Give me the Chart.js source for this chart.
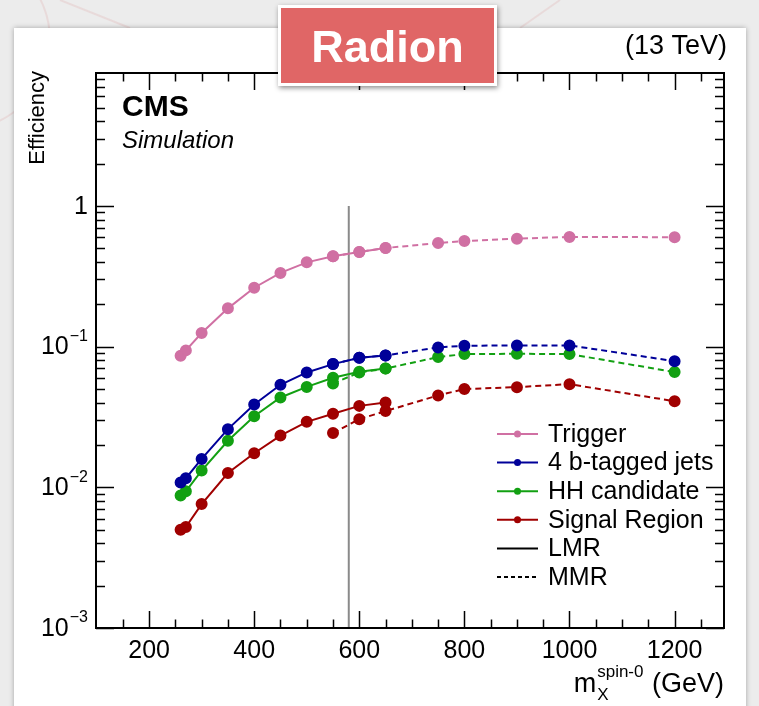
<!DOCTYPE html>
<html>
<head>
<meta charset="utf-8">
<script src="https://cdn.jsdelivr.net/npm/chart.js@4/dist/chart.umd.min.js"></script>
<style>
  html, body { margin: 0; padding: 0; background: #ececec; }
  #wrap { position: relative; width: 759px; height: 706px; overflow: hidden; }
  #chart { position: absolute; left: 0; top: 0; }
  #radion {
    position: absolute; left: 278px; top: 5px; width: 213px; height: 75px;
    background: #e06666; border: 3px solid #fff;
    box-shadow: 1px 2px 5px rgba(0,0,0,0.45);
    color: #fff; font: bold 45px "Liberation Sans", Arial, sans-serif;
    text-align: center; line-height: 77px;
  }
</style>
</head>
<body>
<div id="wrap">
  <canvas id="chart" width="759" height="706"></canvas>
  <div id="radion">Radion</div>
</div>
<script>
// signal mass points (GeV)
const massLMR = [260, 270, 300, 350, 400, 450, 500, 550, 600, 650]
const massMMR = [550, 600, 650, 750, 800, 900, 1000, 1200]

// efficiencies
const triggerLMR = [0.086, 0.094, 0.125, 0.187, 0.262, 0.334, 0.397, 0.438, 0.471, 0.502]
const triggerMMR = [0.438, 0.471, 0.502, 0.544, 0.563, 0.585, 0.602, 0.599]
const btagLMR = [0.0108, 0.0116, 0.0159, 0.0259, 0.0388, 0.0535, 0.0655, 0.0751, 0.0832, 0.0866]
const btagMMR = [0.0751, 0.0832, 0.0866, 0.0987, 0.1013, 0.102, 0.102, 0.0788]
const hhLMR = [0.00873, 0.00937, 0.01315, 0.0214, 0.0320, 0.0435, 0.0517, 0.0600, 0.0662, 0.0700]
const hhMMR = [0.0547, 0.0655, 0.0698, 0.0842, 0.0885, 0.0889, 0.0885, 0.0659]
const srLMR = [0.0050, 0.00522, 0.0076, 0.01264, 0.01746, 0.0233, 0.0292, 0.0333, 0.0379, 0.0401]
const srMMR = [0.0243, 0.0305, 0.0348, 0.0450, 0.0499, 0.0515, 0.0541, 0.0409]

// LMR / MMR boundary
const boundaryX = 580
const boundaryY = [0.001, 1]

const seriesNames = ['Trigger', '4 b-tagged jets', 'HH candidate', 'Signal Region']
const seriesColors = ['#d070a3', '#000099', '#12a012', '#a00000']

const xTicks = [200, 400, 600, 800, 1000, 1200]
const yTicks = [1, 0.1, 0.01, 0.001]
const yTickLabels = [['1', ''], ['10', '\u22121'], ['10', '\u22122'], ['10', '\u22123']]

const FONT = '"Liberation Sans", Arial, sans-serif'

function pts(xs, ys) {
    return xs.map((x, i) => ({ x: x, y: ys[i] }))
}

const lmr = [triggerLMR, btagLMR, hhLMR, srLMR]
const mmr = [triggerMMR, btagMMR, hhMMR, srMMR]

var datasets = []
for (let i = 0; i < 4; i++) {
    datasets.push({
        label: seriesNames[i] + ' MMR',
        data: pts(massMMR, mmr[i]),
        borderColor: seriesColors[i],
        backgroundColor: seriesColors[i],
        borderDash: [6, 4],
        borderWidth: 2,
        pointRadius: 5
    })
}
for (let i = 0; i < 4; i++) {
    datasets.push({
        label: seriesNames[i],
        data: pts(massLMR, lmr[i]),
        borderColor: seriesColors[i],
        backgroundColor: seriesColors[i],
        borderWidth: 2,
        pointRadius: 5
    })
}
datasets.push({
    label: 'boundary',
    data: pts([boundaryX, boundaryX], boundaryY),
    borderColor: '#8a8a8a',
    borderWidth: 2,
    pointRadius: 0
})

function text(ctx, s, x, y, font, align, base) {
    ctx.font = font
    ctx.textAlign = align || 'left'
    ctx.textBaseline = base || 'middle'
    ctx.fillText(s, x, y)
    return ctx.measureText(s).width
}

const rootStyle = {
    id: 'rootStyle',
    beforeDraw(chart) {
        const ctx = chart.ctx
        ctx.save()
        ctx.fillStyle = '#ececec'
        ctx.fillRect(0, 0, chart.width, chart.height)
        // faint background decoration of the slide
        ctx.strokeStyle = 'rgba(215,120,120,0.15)'
        ctx.lineWidth = 2
        ctx.beginPath()
        ctx.arc(-40, 40, 90, 0, Math.PI * 2)
        ctx.moveTo(60, 0); ctx.lineTo(130, 28)
        ctx.moveTo(560, 0); ctx.lineTo(520, 28)
        ctx.stroke()
        ctx.shadowColor = 'rgba(0,0,0,0.3)'
        ctx.shadowBlur = 5
        ctx.fillStyle = '#fff'
        ctx.fillRect(14, 28, 732, 700)
        ctx.restore()
    },
    afterDraw(chart) {
        const ctx = chart.ctx
        const a = chart.chartArea
        const xs = chart.scales.x
        const ys = chart.scales.y
        ctx.save()
        ctx.fillStyle = '#000'
        ctx.strokeStyle = '#000'

        // ticks (inside the frame, all four sides)
        ctx.lineWidth = 1.5
        ctx.beginPath()
        for (let v = 150; v < 1300; v += 50) {
            const px = Math.round(xs.getPixelForValue(v)) + 0.5
            if (px > a.right - 2) break
            const len = v % 200 == 0 ? 17 : 8.5
            ctx.moveTo(px, a.bottom); ctx.lineTo(px, a.bottom - len)
            ctx.moveTo(px, a.top); ctx.lineTo(px, a.top + len)
        }
        for (let d = 0.001; d < 5; d *= 10) {
            for (let k = 1; k < 10; k++) {
                const v = d * k
                if (v > ys.max) break
                const py = Math.round(ys.getPixelForValue(v)) + 0.5
                const len = k == 1 ? 18 : 9
                ctx.moveTo(a.left, py); ctx.lineTo(a.left + len, py)
                ctx.moveTo(a.right, py); ctx.lineTo(a.right - len, py)
            }
        }
        ctx.stroke()

        // frame
        ctx.lineWidth = 2
        ctx.strokeRect(a.left, a.top, a.right - a.left, a.bottom - a.top)

        // x tick labels
        xTicks.forEach(v => {
            text(ctx, String(v), xs.getPixelForValue(v), a.bottom + 23, '25px ' + FONT, 'center')
        })

        // y tick labels with exponent
        yTicks.forEach((v, i) => {
            const py = ys.getPixelForValue(v)
            const lab = yTickLabels[i]
            let right = 88
            if (lab[1]) {
                const w = text(ctx, lab[1], right, py - 10, '16px ' + FONT, 'right')
                right -= w + 1
            }
            text(ctx, lab[0], right, py + 1, '25px ' + FONT, 'right')
        })

        // y title
        ctx.save()
        ctx.translate(38, a.top - 2)
        ctx.rotate(-Math.PI / 2)
        text(ctx, 'Efficiency', 0, 0, '22px ' + FONT, 'right')
        ctx.restore()

        // x title: m_X^{spin-0} (GeV)
        ctx.font = '27px ' + FONT
        const wm = ctx.measureText('m').width
        ctx.font = '17px ' + FONT
        const wsup = ctx.measureText('spin-0').width
        ctx.font = '27px ' + FONT
        const wg = ctx.measureText(' (GeV)').width
        let x0 = a.right - (wm + wsup + wg + 2)
        const ty = 685
        text(ctx, 'm', x0, ty, '27px ' + FONT)
        text(ctx, 'spin-0', x0 + wm + 1, ty - 13, '17px ' + FONT)
        text(ctx, 'X', x0 + wm + 1, ty + 10, '17px ' + FONT)
        text(ctx, ' (GeV)', x0 + wm + wsup + 2, ty, '27px ' + FONT)

        // CMS labels
        text(ctx, 'CMS', 122, 108, 'bold 30px ' + FONT)
        text(ctx, 'Simulation', 122, 141, 'italic 24px ' + FONT)
        text(ctx, '(13 TeV)', a.right + 3, 47, '27px ' + FONT, 'right')

        // legend
        const rows = seriesNames.concat(['LMR', 'MMR'])
        rows.forEach((name, i) => {
            const y = 434 + i * 28.6
            ctx.lineWidth = 2
            ctx.strokeStyle = i < 4 ? seriesColors[i] : '#000'
            ctx.setLineDash(i == 5 ? [4, 3] : [])
            ctx.beginPath()
            ctx.moveTo(497, y); ctx.lineTo(538, y)
            ctx.stroke()
            ctx.setLineDash([])
            if (i < 4) {
                ctx.fillStyle = seriesColors[i]
                ctx.beginPath()
                ctx.arc(517.5, y, 3.5, 0, Math.PI * 2)
                ctx.fill()
            }
            ctx.fillStyle = '#000'
            text(ctx, name, 548, y + 1, '25px ' + FONT)
        })
        ctx.restore()
    }
}

const ctx = document.getElementById('chart')

var myChart = new Chart(ctx, {
    type: 'line',
    data: { datasets: datasets },
    options: {
        responsive: false,
        animation: false,
        devicePixelRatio: 1,
        layout: { padding: { left: 96, top: 73, right: 35, bottom: 78 } },
        plugins: {
            legend: { display: false },
            tooltip: { enabled: false }
        },
        elements: {
            line: { tension: 0 },
            point: { borderWidth: 0 }
        },
        scales: {
            x: { type: 'linear', min: 99, max: 1294, display: false },
            y: { type: 'logarithmic', min: 0.001, max: 8.8, display: false }
        }
    },
    plugins: [rootStyle]
});
</script>
</body>
</html>
